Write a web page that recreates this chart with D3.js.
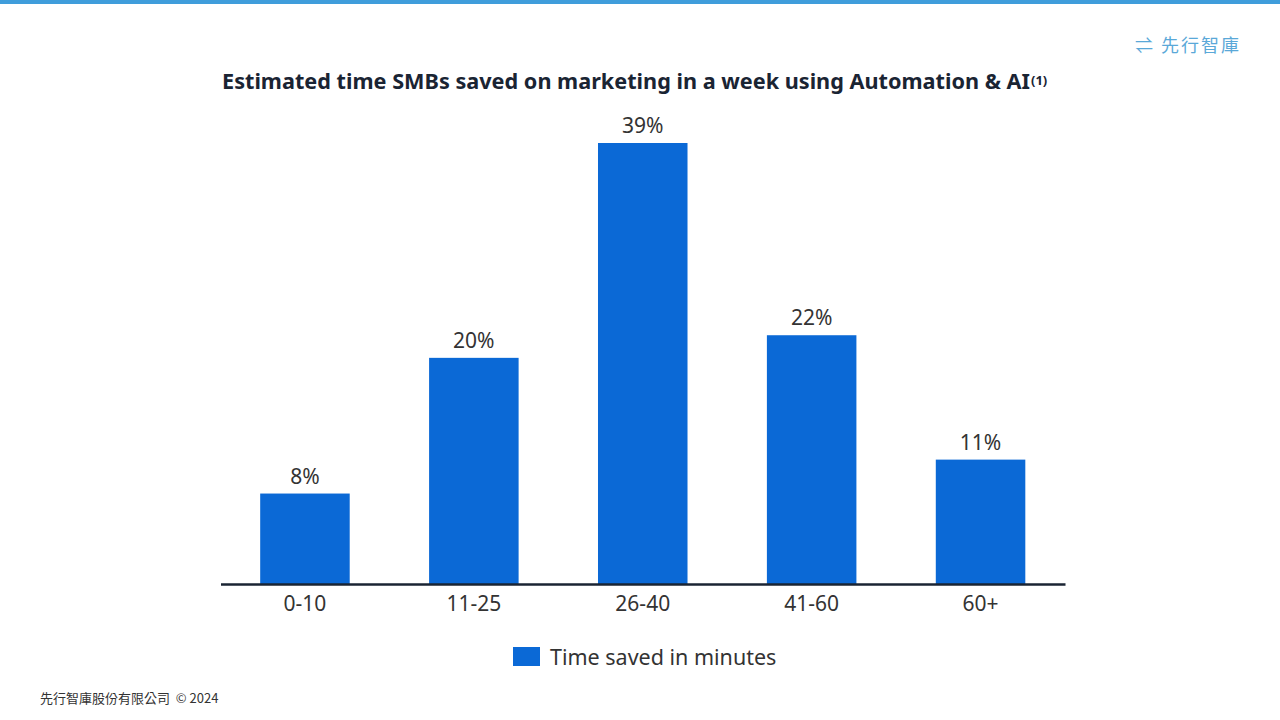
<!DOCTYPE html>
<html><head><meta charset="utf-8">
<script src="https://cdn.jsdelivr.net/npm/d3@7"></script>
<style>body{margin:0;background:#fff}svg{display:block}</style>
</head><body>
<svg id="chart" width="1280" height="720"></svg>
<script>
const categories = ["0-10", "11-25", "26-40", "41-60", "60+"];
const values = [8, 20, 39, 22, 11];
const seriesName = "Time saved in minutes";

const svg = d3.select("#chart");
const font = "'Noto Sans', 'Open Sans', sans-serif";

// top stripe
svg.append("rect").attr("width", 1280).attr("height", 4).attr("fill", "#3f9ddb");

// logo
svg.append("text").attr("x", 1135).attr("y", 52).attr("font-family", "'Noto Sans CJK TC', sans-serif")
   .attr("font-size", 18).attr("fill", "#5aa8d8").attr("letter-spacing", 2)
   .text("⇌ 先行智庫");

// title
svg.append("text").attr("x", 222).attr("y", 89).attr("font-family", font)
   .attr("font-size", 21).attr("font-weight", 700).attr("fill", "#1a2433")
   .attr("textLength", 808).attr("lengthAdjust", "spacingAndGlyphs")
   .text("Estimated time SMBs saved on marketing in a week using Automation & AI");
svg.append("text").attr("x", 1031).attr("y", 85).attr("font-family", font)
   .attr("font-size", 13).attr("font-weight", 700).attr("fill", "#1a2433").text("(1)");

const x = d3.scaleBand().domain(categories).range([220.5, 1065]).paddingInner(0.47).paddingOuter(0.235);
const y = d3.scaleLinear().domain([0, 39]).range([584, 143]);

svg.selectAll(".bar").data(values).enter().append("rect")
   .attr("x", (d, i) => x(categories[i]))
   .attr("y", d => y(d))
   .attr("width", x.bandwidth())
   .attr("height", d => y(0) - y(d))
   .attr("fill", "#0b69d6");

svg.selectAll(".lbl").data(values).enter().append("text")
   .attr("x", (d, i) => x(categories[i]) + x.bandwidth() / 2)
   .attr("y", d => y(d) - 10)
   .attr("text-anchor", "middle").attr("font-family", font)
   .attr("font-size", 21).attr("fill", "#333")
   .text(d => d + "%");

const ax = svg.append("g").attr("transform", "translate(0,584)")
   .call(d3.axisBottom(x).tickSize(0).tickPadding(12));
ax.select(".domain").attr("stroke", "#1a2433").attr("stroke-width", 2.5);
ax.selectAll("text").attr("font-family", font).attr("font-size", 21).attr("fill", "#333");

// legend
svg.append("rect").attr("x", 513).attr("y", 647).attr("width", 27).attr("height", 19).attr("fill", "#0b69d6");
svg.append("text").attr("x", 550).attr("y", 665).attr("font-family", font)
   .attr("font-size", 21.5).attr("fill", "#333").text(seriesName);

// footer
svg.append("text").attr("x", 40).attr("y", 703).attr("font-family", "'Noto Sans CJK TC', sans-serif")
   .attr("font-size", 13).attr("fill", "#333").attr("xml:space", "preserve").text("先行智庫股份有限公司  © 2024");
</script>
</body></html>
